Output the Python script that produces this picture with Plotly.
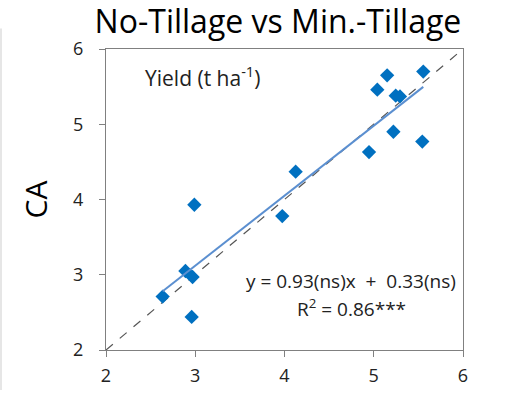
import plotly.graph_objects as go

# Data
x_min_tillage = [2.99, 2.635, 2.89, 2.97, 2.96, 3.975, 4.125, 4.947, 5.22, 5.544, 5.04, 5.15, 5.555, 5.246, 5.294]
y_ca = [3.93, 2.71, 3.05, 2.97, 2.44, 3.78, 4.37, 4.63, 4.90, 4.77, 5.46, 5.65, 5.70, 5.38, 5.37]
slope = 0.93
intercept = 0.33
trend_x = [min(x_min_tillage), max(x_min_tillage)]
one_to_one = [2, 6]
tick_vals = [2, 3, 4, 5, 6]

FONT = "Open Sans"

fig = go.Figure()
fig.add_trace(go.Scatter(
    x=one_to_one, y=one_to_one, mode="lines",
    line=dict(color="#555555", width=1.2, dash="dash"), hoverinfo="skip", showlegend=False))
fig.add_trace(go.Scatter(
    x=x_min_tillage, y=y_ca, mode="markers",
    marker=dict(symbol="diamond", size=11, color="#0070C0"), showlegend=False))
fig.add_trace(go.Scatter(
    x=trend_x, y=[slope * v + intercept for v in trend_x], mode="lines",
    line=dict(color="#5B8FD0", width=2), showlegend=False))

fig.update_layout(
    width=510, height=399,
    margin=dict(l=106, r=47, t=49, b=41),
    paper_bgcolor="white", plot_bgcolor="white",
    font=dict(family=FONT, color="#222222"),
    title=dict(text="No-Tillage vs Min.-Tillage", x=0.545, xanchor="center",
               y=1 - 22 / 399, yanchor="middle", font=dict(size=32, color="#000000", family=FONT)),
    xaxis=dict(range=[2, 6], tickvals=tick_vals, showgrid=False, zeroline=False,
               showline=True, linecolor="#808080", linewidth=1.3, mirror=True,
               ticks="outside", ticklen=6, tickcolor="#808080", ticklabelstandoff=3,
               tickfont=dict(size=18, color="#222222")),
    yaxis=dict(range=[2, 6], tickvals=tick_vals, showgrid=False, zeroline=False,
               showline=True, linecolor="#808080", linewidth=1.3, mirror=True,
               ticks="outside", ticklen=6, tickcolor="#808080", ticklabelstandoff=12,
               tickfont=dict(size=18, color="#222222"),
               title=dict(text="CA", font=dict(size=30, color="#000000"), standoff=16)),
    shapes=[dict(type="line", xref="paper", yref="paper",
                 x0=-105 / 357, x1=-105 / 357, y0=1 + 21 / 309, y1=-41 / 309,
                 line=dict(color="#E6E6E6", width=2))],
)

fig.add_annotation(xref="paper", yref="paper", x=(143 - 106) / 357, y=1 - (77 - 49) / 309,
                   xanchor="left", yanchor="middle", showarrow=False,
                   text="Yield (t ha<sup>-1</sup>)", font=dict(size=21, color="#222222"))
fig.add_annotation(xref="paper", yref="paper", x=(458 - 106) / 357, y=1 - (287 - 49) / 309,
                   xanchor="right", yanchor="middle", showarrow=False,
                   text="y = 0.93(ns)x  +  0.33(ns)", font=dict(size=19, color="#222222"))
fig.add_annotation(xref="paper", yref="paper", x=(351 - 106) / 357, y=1 - (315 - 49) / 309,
                   xanchor="center", yanchor="middle", showarrow=False,
                   text="R<sup>2</sup> = 0.86***", font=dict(size=19, color="#222222"))

fig.write_html("out.html")
